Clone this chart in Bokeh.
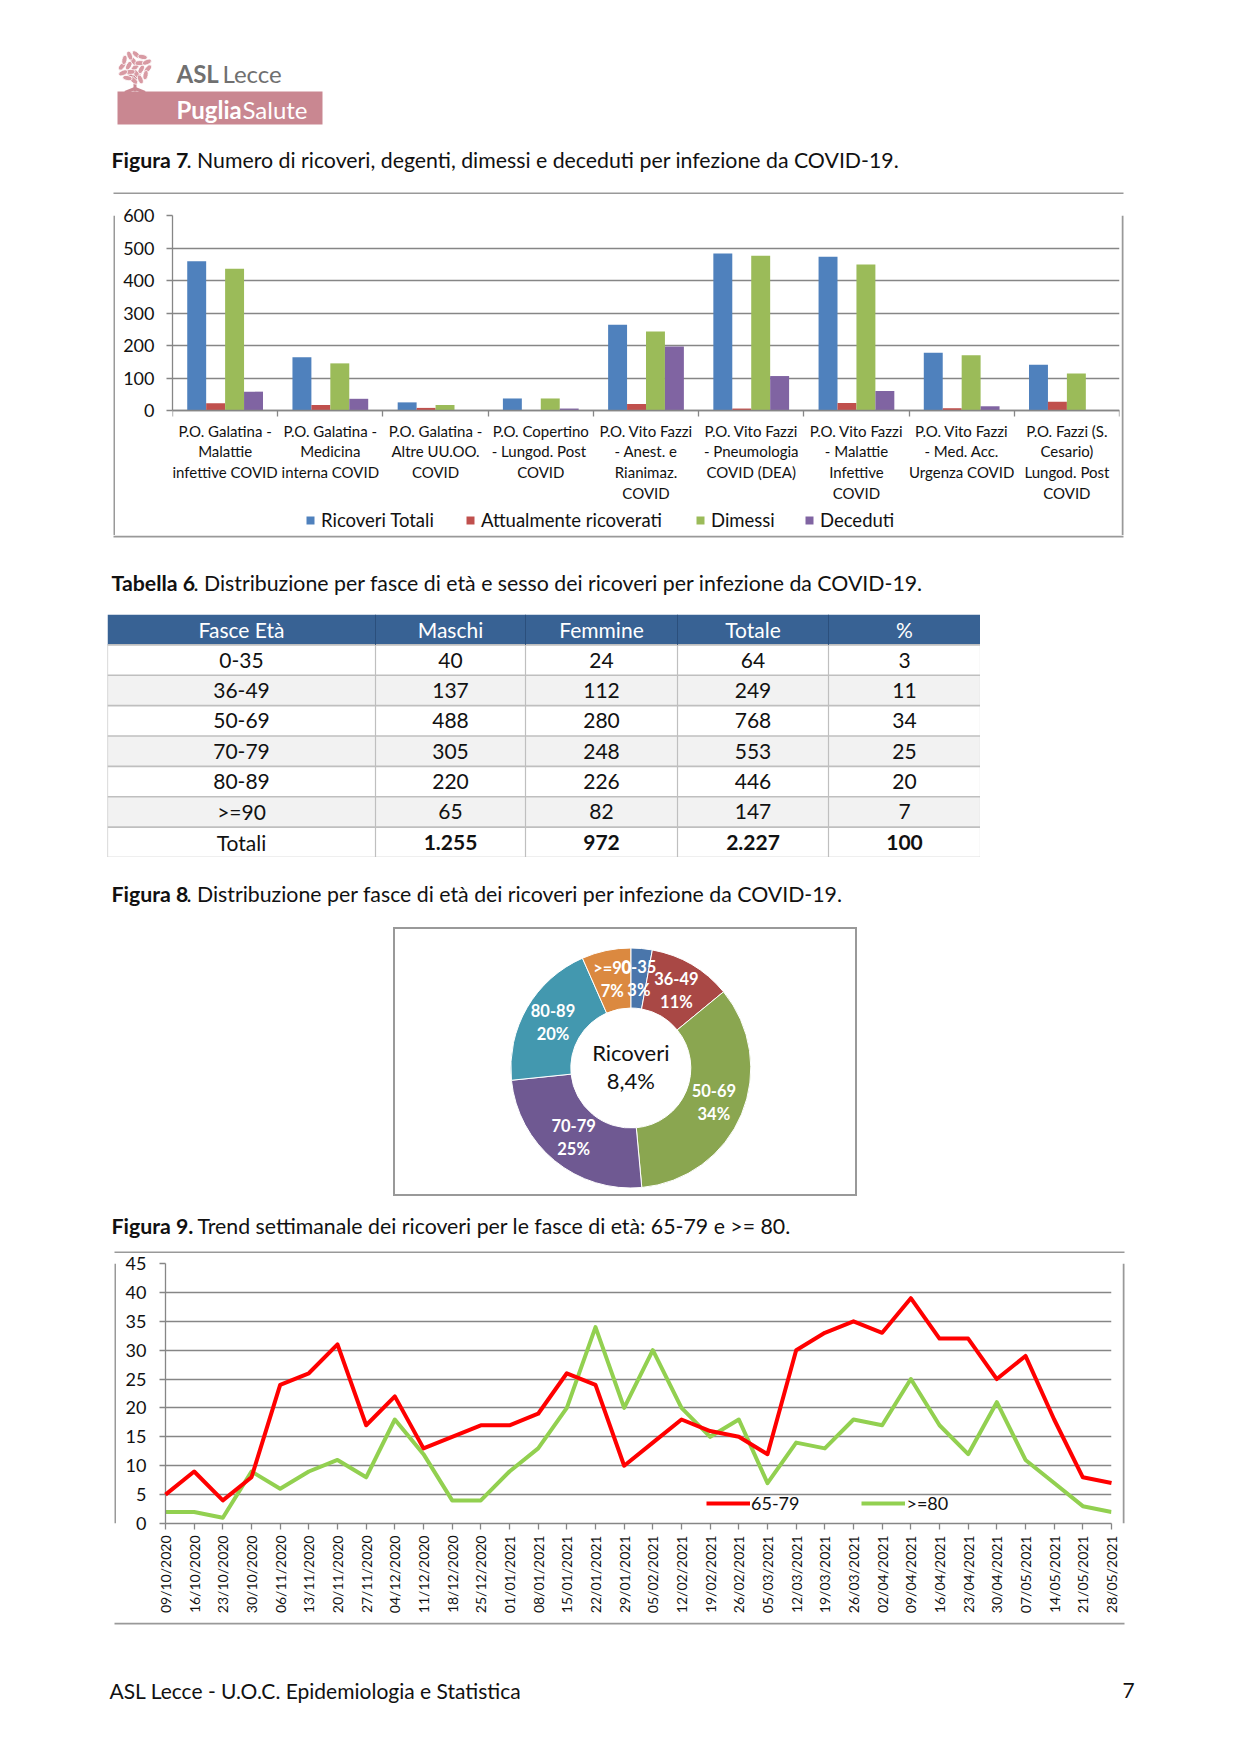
from math import pi, cos, sin
from bokeh.plotting import figure
from bokeh.models import (Range1d, LinearAxis, FixedTicker, Legend, LegendItem, Spacer,
                          ColumnDataSource)
from bokeh.layouts import column, row
from bokeh.core.properties import value
from bokeh.embed import file_html
from bokeh.resources import INLINE

FONT = "Lato"
GRAY = "#868686"
BOX = "#999999"
TXT = "#111111"

# ---------------- data ----------------
bar_categories = [
    "P.O. Galatina - Malattie infettive COVID",
    "P.O. Galatina - Medicina interna COVID",
    "P.O. Galatina - Altre UU.OO. COVID",
    "P.O. Copertino - Lungod. Post COVID",
    "P.O. Vito Fazzi - Anest. e Rianimaz. COVID",
    "P.O. Vito Fazzi - Pneumologia COVID (DEA)",
    "P.O. Vito Fazzi - Malattie Infettive COVID",
    "P.O. Vito Fazzi - Med. Acc. Urgenza COVID",
    "P.O. Fazzi (S. Cesario) Lungod. Post COVID",
]
bar_labels = [
    "P.O. Galatina -\nMalattie\ninfettive COVID",
    "P.O. Galatina -\nMedicina\ninterna COVID",
    "P.O. Galatina -\nAltre UU.OO.\nCOVID",
    "P.O. Copertino\n-  Lungod. Post\nCOVID",
    "P.O. Vito Fazzi\n- Anest. e\nRianimaz.\nCOVID",
    "P.O. Vito Fazzi\n- Pneumologia\nCOVID (DEA)",
    "P.O. Vito Fazzi\n- Malattie\nInfettive\nCOVID",
    "P.O. Vito Fazzi\n- Med. Acc.\nUrgenza COVID",
    "P.O. Fazzi (S.\nCesario)\nLungod. Post\nCOVID",
]
ricoveri_totali = [459, 164, 25, 37, 264, 483, 473, 178, 141]
attualmente_ricoverati = [22, 17, 8, 0, 20, 6, 23, 7, 27]
dimessi = [436, 145, 17, 37, 243, 476, 449, 170, 114]
deceduti = [58, 36, 0, 6, 197, 106, 60, 13, 0]
bar_series = ["Ricoveri Totali", "Attualmente ricoverati", "Dimessi", "Deceduti"]
bar_colors = ["#4F81BD", "#C0504D", "#9BBB59", "#8064A2"]
bar_ticks = [0, 100, 200, 300, 400, 500, 600]

table_header = ["Fasce Età", "Maschi", "Femmine", "Totale", "%"]
fasce = ["0-35", "36-49", "50-69", "70-79", "80-89", ">=90"]
maschi = [40, 137, 488, 305, 220, 65]
femmine = [24, 112, 280, 248, 226, 82]
totale = [64, 249, 768, 553, 446, 147]
percentuale = [3, 11, 34, 25, 20, 7]
totali_label = "Totali"

donut_colors = ["#4A76AB", "#A94845", "#8AA650", "#6F5992", "#4398AF", "#DB8940"]
donut_center = ["Ricoveri", "8,4%"]

week_labels = [
    "09/10/2020", "16/10/2020", "23/10/2020", "30/10/2020", "06/11/2020", "13/11/2020",
    "20/11/2020", "27/11/2020", "04/12/2020", "11/12/2020", "18/12/2020", "25/12/2020",
    "01/01/2021", "08/01/2021", "15/01/2021", "22/01/2021", "29/01/2021", "05/02/2021",
    "12/02/2021", "19/02/2021", "26/02/2021", "05/03/2021", "12/03/2021", "19/03/2021",
    "26/03/2021", "02/04/2021", "09/04/2021", "16/04/2021", "23/04/2021", "30/04/2021",
    "07/05/2021", "14/05/2021", "21/05/2021", "28/05/2021",
]
eta_65_79 = [5, 9, 4, 8, 24, 26, 31, 17, 22, 13, 15, 17, 17, 19, 26, 24, 10, 14, 18, 16,
             15, 12, 30, 33, 35, 33, 39, 32, 32, 25, 29, 18, 8, 7]
eta_80_plus = [2, 2, 1, 9, 6, 9, 11, 8, 18, 12, 4, 4, 9, 13, 20, 34, 20, 30, 20, 15,
               18, 7, 14, 13, 18, 17, 25, 17, 12, 21, 11, 7, 3, 2]
line_names = ["65-79", ">=80"]
line_colors = ["#FF0000", "#92D050"]
line_ticks = [0, 5, 10, 15, 20, 25, 30, 35, 40, 45]

captions = [
    ("Figura 7", ". Numero di ricoveri, degenti, dimessi e deceduti per infezione da COVID-19."),
    ("Tabella 6", ". Distribuzione per fasce di età  e sesso dei ricoveri per infezione da COVID-19."),
    ("Figura 8", ". Distribuzione per fasce di età dei ricoveri per infezione da COVID-19."),
    ("Figura 9.", "Trend settimanale dei ricoveri per le fasce di età: 65-79 e >= 80."),
]
footer_text = "ASL Lecce - U.O.C. Epidemiologia e Statistica"
page_number = "7"

PAGE_W = 1236
CAP_SIZE = "21.3px"
BAR_BOX = (113, 1123)
LINE_BOX = (114, 1124)


def blank_fig(w, h, xr=None, yr=None):
    p = figure(width=w, height=h,
               x_range=xr if xr is not None else Range1d(0, w),
               y_range=yr if yr is not None else Range1d(h, 0),
               output_backend="svg", toolbar_location=None, min_border=0,
               x_axis_location=None, y_axis_location=None)
    p.outline_line_color = None
    p.background_fill_color = "white"
    p.border_fill_color = "white"
    p.grid.visible = False
    return p


def txt(p, x, y, s, size="20px", style="normal", color=TXT, align="left", baseline="middle"):
    p.text(x=[x], y=[y], text=[s], text_font=value(FONT), text_font_size=size,
           text_font_style=style, text_color=color, text_align=align, text_baseline=baseline)


def caption(p, x_norm, y, pair):
    txt(p, 111, y, pair[0], size=CAP_SIZE, style="bold")
    txt(p, x_norm, y, pair[1], size=CAP_SIZE)


def hline(p, box, y0):
    p.quad(left=[box[0]], right=[box[1]], top=[y0], bottom=[y0 + 2], fill_color=BOX, line_color=None)


def style_axis(ax, size):
    ax.major_tick_in = 0
    ax.minor_tick_in = 0
    ax.minor_tick_line_color = None
    ax.axis_line_color = GRAY
    ax.axis_line_width = 1.3
    ax.major_tick_line_color = GRAY
    ax.major_tick_line_width = 1.3
    ax.major_label_text_font = FONT
    ax.major_label_text_font_size = size
    ax.major_label_text_color = TXT


def framed_row(chart, box, h):
    x0, x1 = box
    left = blank_fig(x0 + 2, h)
    left.quad(left=[x0], right=[x0 + 2], top=[0], bottom=[h], fill_color=BOX, line_color=None)
    right = blank_fig(PAGE_W - (x1 - 2), h)
    right.quad(left=[0], right=[2], top=[0], bottom=[h], fill_color=BOX, line_color=None)
    return row(left, chart, right)


# ---------------- header (logo + caption 7 + top of chart box) ----------------
header = blank_fig(PAGE_W, 194)
cx, cy = 134.5, 67
lx, ly, la = [], [], []
for rr, n, off in [(0, 1, 0.0), (6.5, 6, 0.3), (13, 12, 0.1)]:
    for k in range(n):
        a = 2 * pi * k / n + off
        lx.append(cx + rr * cos(a))
        ly.append(cy + rr * sin(a))
        la.append(a + pi / 4)
header.segment(x0=[cx, cx, cx, cx, cx], y0=[74, 88, 88, 80, 78], x1=[cx, cx - 10, cx + 10, cx - 7, cx + 6],
               y1=[91, 92, 92, 72, 71], line_color="#c98791", line_width=3)
header.ellipse(x=lx, y=ly, width=9.5, height=5.0, angle=la, fill_color="#d89aa3",
               line_color="white", line_width=0.8)
header.quad(left=[117], right=[322], top=[91], bottom=[124], fill_color="#c98791", line_color=None)
txt(header, 176, 73, "ASL", size="24px", style="bold", color="#707070")
txt(header, 222, 73, "Lecce", size="24px", color="#707070")
txt(header, 176, 108.5, "Puglia", size="24px", style="bold", color="white")
txt(header, 242, 108.5, "Salute", size="24px", color="white")
caption(header, 186, 159, captions[0])
hline(header, BAR_BOX, 192)

# ---------------- bar chart ----------------
# frame spans from the 600 line (y=215 px) down to the inner box bottom (y=535 px);
# the value axis 0..600 occupies the top 195 px, categories and legend sit below y=0.
ncat = len(bar_categories)
BAR_FRAME_L = 172
PX_PER_UNIT = 195.0 / 600.0
y_floor = -(535 - 410) / PX_PER_UNIT
bp = figure(frame_width=947, frame_height=320, x_range=Range1d(0, ncat),
            y_range=Range1d(y_floor, 600), output_backend="svg", toolbar_location=None,
            x_axis_location=None, min_border_left=BAR_FRAME_L - 115, min_border_right=2,
            min_border_top=21, min_border_bottom=0)
bp.outline_line_color = None
bp.xgrid.visible = False
centers = [i + 0.5 for i in range(ncat)]
cat_axis = LinearAxis(ticker=FixedTicker(ticks=centers, minor_ticks=list(range(ncat + 1))),
                      major_label_standoff=5, fixed_location=0,
                      major_label_overrides={c: lab for c, lab in zip(centers, bar_labels)})
style_axis(cat_axis, "15px")
cat_axis.major_tick_line_color = None
cat_axis.major_tick_out = 0
cat_axis.minor_tick_line_color = GRAY
cat_axis.minor_tick_line_width = 1.3
cat_axis.minor_tick_out = 6
cat_axis.major_label_text_line_height = 1.15
bp.add_layout(cat_axis, "below")
bp.yaxis.ticker = FixedTicker(ticks=bar_ticks)
bp.yaxis.bounds = (0, 600)
style_axis(bp.yaxis[0], "18px")
bp.yaxis.major_tick_out = 6
bp.yaxis.major_label_standoff = 12
bp.ygrid.grid_line_color = GRAY
bp.ygrid.grid_line_width = 1.3
offsets = [-0.27, -0.09, 0.09, 0.27]
series_values = [ricoveri_totali, attualmente_ricoverati, dimessi, deceduti]
legend_marker_x = [305, 465, 695, 804]
for name, vals, color, off, mx in zip(bar_series, series_values, bar_colors, offsets, legend_marker_x):
    src = ColumnDataSource(dict(x=[c + off for c in centers], top=vals, cat=bar_categories))
    r = bp.vbar(x="x", top="top", bottom=0, width=0.18, source=src, fill_color=color, line_color=None)
    lg = Legend(items=[LegendItem(label=name, renderers=[r])], location=(mx - BAR_FRAME_L, 4),
                orientation="horizontal", glyph_width=10, glyph_height=10, label_standoff=6,
                padding=0, margin=0, border_line_color=None, background_fill_alpha=0,
                label_text_font=FONT, label_text_font_size="18.5px", label_text_color=TXT,
                label_height=20)
    bp.add_layout(lg, "center")

# ---------------- caption Tabella 6 (+ bottom of chart box) ----------------
cap_t = blank_fig(PAGE_W, 79)
hline(cap_t, BAR_BOX, 0)
caption(cap_t, 193, 47, captions[1])

# ---------------- table ----------------
TW, TH = 873, 243
nrows = len(fasce) + 2
tp = blank_fig(TW, TH, Range1d(0, TW), Range1d(nrows, 0))
col_edges = [0, 268, 418, 570, 721, 873]
col_mid = [(a + b) / 2 for a, b in zip(col_edges[:-1], col_edges[1:])]
tp.quad(left=[0], right=[TW], top=[0], bottom=[1], fill_color="#386294", line_color=None)
body_fill = ["white" if k % 2 == 0 else "#F2F2F2" for k in range(nrows - 1)]
tp.quad(left=[0] * (nrows - 1), right=[TW] * (nrows - 1), top=list(range(1, nrows)),
        bottom=list(range(2, nrows + 1)), fill_color=body_fill, line_color=None)
tp.segment(x0=[0] * nrows, x1=[TW] * nrows, y0=list(range(1, nrows + 1)), y1=list(range(1, nrows + 1)),
           line_color="#BFBFBF", line_width=1.6)
tp.segment(x0=col_edges, x1=col_edges, y0=[1] * len(col_edges), y1=[nrows] * len(col_edges),
           line_color="#BFBFBF", line_width=1.2)
tp.segment(x0=col_edges[1:-1], x1=col_edges[1:-1], y0=[0] * 4, y1=[1] * 4,
           line_color="#2b4f7c", line_width=1)
tp.text(x=col_mid, y=[0.5] * 5, text=table_header, text_font=value(FONT), text_font_size="21px",
        text_color="white", text_align="center", text_baseline="middle")
body_x, body_y, body_t = [], [], []
for i in range(len(fasce)):
    for j, v in enumerate([fasce[i], maschi[i], femmine[i], totale[i], percentuale[i]]):
        body_x.append(col_mid[j])
        body_y.append(i + 1.5)
        body_t.append(str(v))
tp.text(x=body_x, y=body_y, text=body_t, text_font=value(FONT), text_font_size="21px",
        text_color=TXT, text_align="center", text_baseline="middle")


def fmt_it(n):
    return "{:,}".format(n).replace(",", ".")


tot_vals = [fmt_it(sum(maschi)), fmt_it(sum(femmine)), fmt_it(sum(totale)), fmt_it(sum(percentuale))]
txt(tp, col_mid[0], nrows - 0.5, totali_label, size="21px", align="center")
tp.text(x=col_mid[1:], y=[nrows - 0.5] * 4, text=tot_vals, text_font=value(FONT), text_font_size="21px",
        text_font_style="bold", text_color=TXT, text_align="center", text_baseline="middle")

# ---------------- caption Figura 8 ----------------
cap_8 = blank_fig(PAGE_W, 70)
caption(cap_8, 186, 36, captions[2])

# ---------------- donut ----------------
DW, DH = 464, 269
dp = blank_fig(DW, DH, Range1d(-237.3, DW - 237.3), Range1d(-(DH - 140.5), 140.5))
dp.outline_line_color = BOX
dp.outline_line_width = 3
tot_all = sum(totale)
starts, ends, lxs, lys, labs = [], [], [], [], []
cum = 0.0
for f, v, pc in zip(fasce, totale, percentuale):
    frac = v / tot_all
    starts.append(pi / 2 - 2 * pi * cum)
    ends.append(pi / 2 - 2 * pi * (cum + frac))
    mid = pi / 2 - 2 * pi * (cum + frac / 2)
    lxs.append(90 * cos(mid))
    lys.append(90 * sin(mid))
    labs.append("%s\n%d%%" % (f, pc))
    cum += frac
dsrc = ColumnDataSource(dict(s=starts, e=ends, c=donut_colors))
dp.annular_wedge(x=0, y=0, inner_radius=60, outer_radius=120, start_angle="s", end_angle="e",
                 direction="clock", fill_color="c", line_color="white", line_width=1, source=dsrc)
dp.text(x=lxs, y=lys, text=labs, text_font=value(FONT), text_font_size="16.5px", text_font_style="bold",
        text_color="white", text_align="center", text_baseline="middle", text_line_height=1.15)
dp.text(x=[0, 0], y=[15.8, -12.5], text=donut_center, text_font=value(FONT), text_font_size="22px",
        text_color=TXT, text_align="center", text_baseline="middle")

# ---------------- caption Figura 9 (+ top of line chart box) ----------------
cap_9 = blank_fig(PAGE_W, 57)
caption(cap_9, 197, 29, captions[3])
hline(cap_9, LINE_BOX, 55)

# ---------------- line chart ----------------
n = len(week_labels)
lp = figure(frame_width=946, frame_height=260, x_range=Range1d(0, n - 1), y_range=Range1d(0, 45),
            output_backend="svg", toolbar_location=None, min_border_left=49, min_border_right=11,
            min_border_top=10, min_border_bottom=99)
lp.outline_line_color = None
lp.xgrid.visible = False
lp.ygrid.grid_line_color = GRAY
lp.ygrid.grid_line_width = 1.3
lp.yaxis.ticker = FixedTicker(ticks=line_ticks)
lp.xaxis.ticker = FixedTicker(ticks=list(range(n)))
lp.xaxis.major_label_overrides = {i: d for i, d in enumerate(week_labels)}
lp.xaxis.major_label_orientation = pi / 2
style_axis(lp.xaxis[0], "14px")
style_axis(lp.yaxis[0], "18px")
lp.xaxis.major_tick_out = 6
lp.yaxis.major_tick_out = 6
lp.yaxis.major_label_standoff = 13
lp.xaxis.major_label_standoff = 6
lsrc = ColumnDataSource(dict(x=list(range(n)), a=eta_65_79, b=eta_80_plus))
r1 = lp.line(x="x", y="a", source=lsrc, line_color=line_colors[0], line_width=4, line_join="round")
r2 = lp.line(x="x", y="b", source=lsrc, line_color=line_colors[1], line_width=4, line_join="round")
r1.level = "overlay"
line_legend = Legend(items=[LegendItem(label=line_names[0], renderers=[r1]),
                            LegendItem(label=line_names[1], renderers=[r2])],
                     location=(541, 9), orientation="horizontal", glyph_width=44, glyph_height=20,
                     label_standoff=1, spacing=62, padding=0, margin=0, border_line_color=None,
                     background_fill_alpha=0, label_text_font=FONT, label_text_font_size="18px",
                     label_text_color=TXT, label_height=20)
lp.add_layout(line_legend, "center")

# ---------------- footer (+ bottom of line chart box) ----------------
footer = blank_fig(PAGE_W, 117)
hline(footer, LINE_BOX, 0)
txt(footer, 109, 68, footer_text, size="21px")
txt(footer, 1128, 68, page_number, size="21px", align="center")

page = column(
    header,
    framed_row(bp, BAR_BOX, 341),
    cap_t,
    row(Spacer(width=107, height=TH), tp),
    cap_8,
    row(Spacer(width=393, height=DH), dp),
    cap_9,
    framed_row(lp, LINE_BOX, 369),
    footer,
)

open("out.html", "w").write(file_html(page, INLINE))
